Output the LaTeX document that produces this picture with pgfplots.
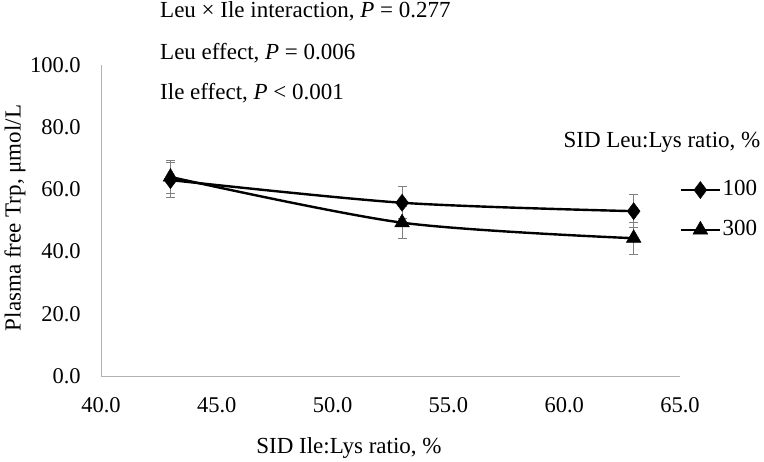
\documentclass[border=0pt]{standalone}
\usepackage{pgfplots}
\pgfplotsset{compat=1.18}
\usepackage{fontspec}
\setmainfont{Liberation Serif}
\begin{document}
\fontsize{23}{27}\selectfont
\begin{tikzpicture}[x=1pt,y=1pt]
\path[use as bounding box] (0,0) rectangle (764,462);
\begin{axis}[
  at={(101pt,86pt)}, anchor=south west,
  scale only axis, width=579pt, height=311pt,
  xmin=40, xmax=65, ymin=0, ymax=100,
  xtick={40,45,50,55,60,65}, ytick={0,20,40,60,80,100},
  axis x line=bottom, axis y line=left,
  axis line style={-, draw=gray!60, line width=0.8pt},
  major tick length=0pt,
  tick label style={font=\fontsize{22.5}{27}\selectfont},
  /pgf/number format/assume math mode=true,
  /pgf/number format/fixed,
  /pgf/number format/fixed zerofill,
  /pgf/number format/precision=1,
  xticklabel style={yshift=-14pt},
  yticklabel style={xshift=-12.5pt},
  clip=false,
  legend style={at={(axis description cs:1.0,0.534)}, anchor=west, draw=none, fill=none,
    font=\fontsize{23}{27}\selectfont, row sep=17pt, inner sep=0pt},
  legend cell align=left,
  legend image code/.code={\draw[mark repeat=2,mark phase=2,#1] plot coordinates {(0pt,0pt) (19pt,0pt) (38pt,0pt)};},
]
\addplot[black, line width=2.4pt, smooth, mark=diamond*, mark size=8.5pt, mark options={solid, line width=0.5pt},
  error bars/.cd, y dir=both, y explicit,
  error bar style={gray, line width=1pt},
  error mark options={rotate=90, gray, mark size=4.5pt, line width=1pt}]
  coordinates {(43,63) +- (0,5.5) (53,55.7) +- (0,5.2) (63,53) +- (0,5.2)};
\addlegendentry{100}
\addplot[black, line width=2.4pt, smooth, mark=triangle*, mark size=8.5pt, mark options={solid, line width=0.5pt},
  error bars/.cd, y dir=both, y explicit,
  error bar style={gray, line width=1pt},
  error mark options={rotate=90, gray, mark size=4.5pt, line width=1pt}]
  coordinates {(43,64) +- (0,5.2) (53,49.3) +- (0,5.2) (63,44.3) +- (0,5.2)};
\addlegendentry{300}
\end{axis}
\node[anchor=base west, inner sep=0pt] at (160,444) {Leu × Ile interaction, \textit{P} = 0.277};
\node[anchor=base west, inner sep=0pt] at (160,402) {Leu effect, \textit{P} = 0.006};
\node[anchor=base west, inner sep=0pt] at (160,362) {Ile effect, \textit{P} < 0.001};
\node[anchor=base, inner sep=0pt] at (662,314) {SID Leu:Lys ratio, \%};
\node[anchor=base, inner sep=0pt] at (349,8) {SID Ile:Lys ratio, \%};
\node[inner sep=0pt, rotate=90] at (15,244) {Plasma free Trp, μmol/L};
\end{tikzpicture}
\end{document}
